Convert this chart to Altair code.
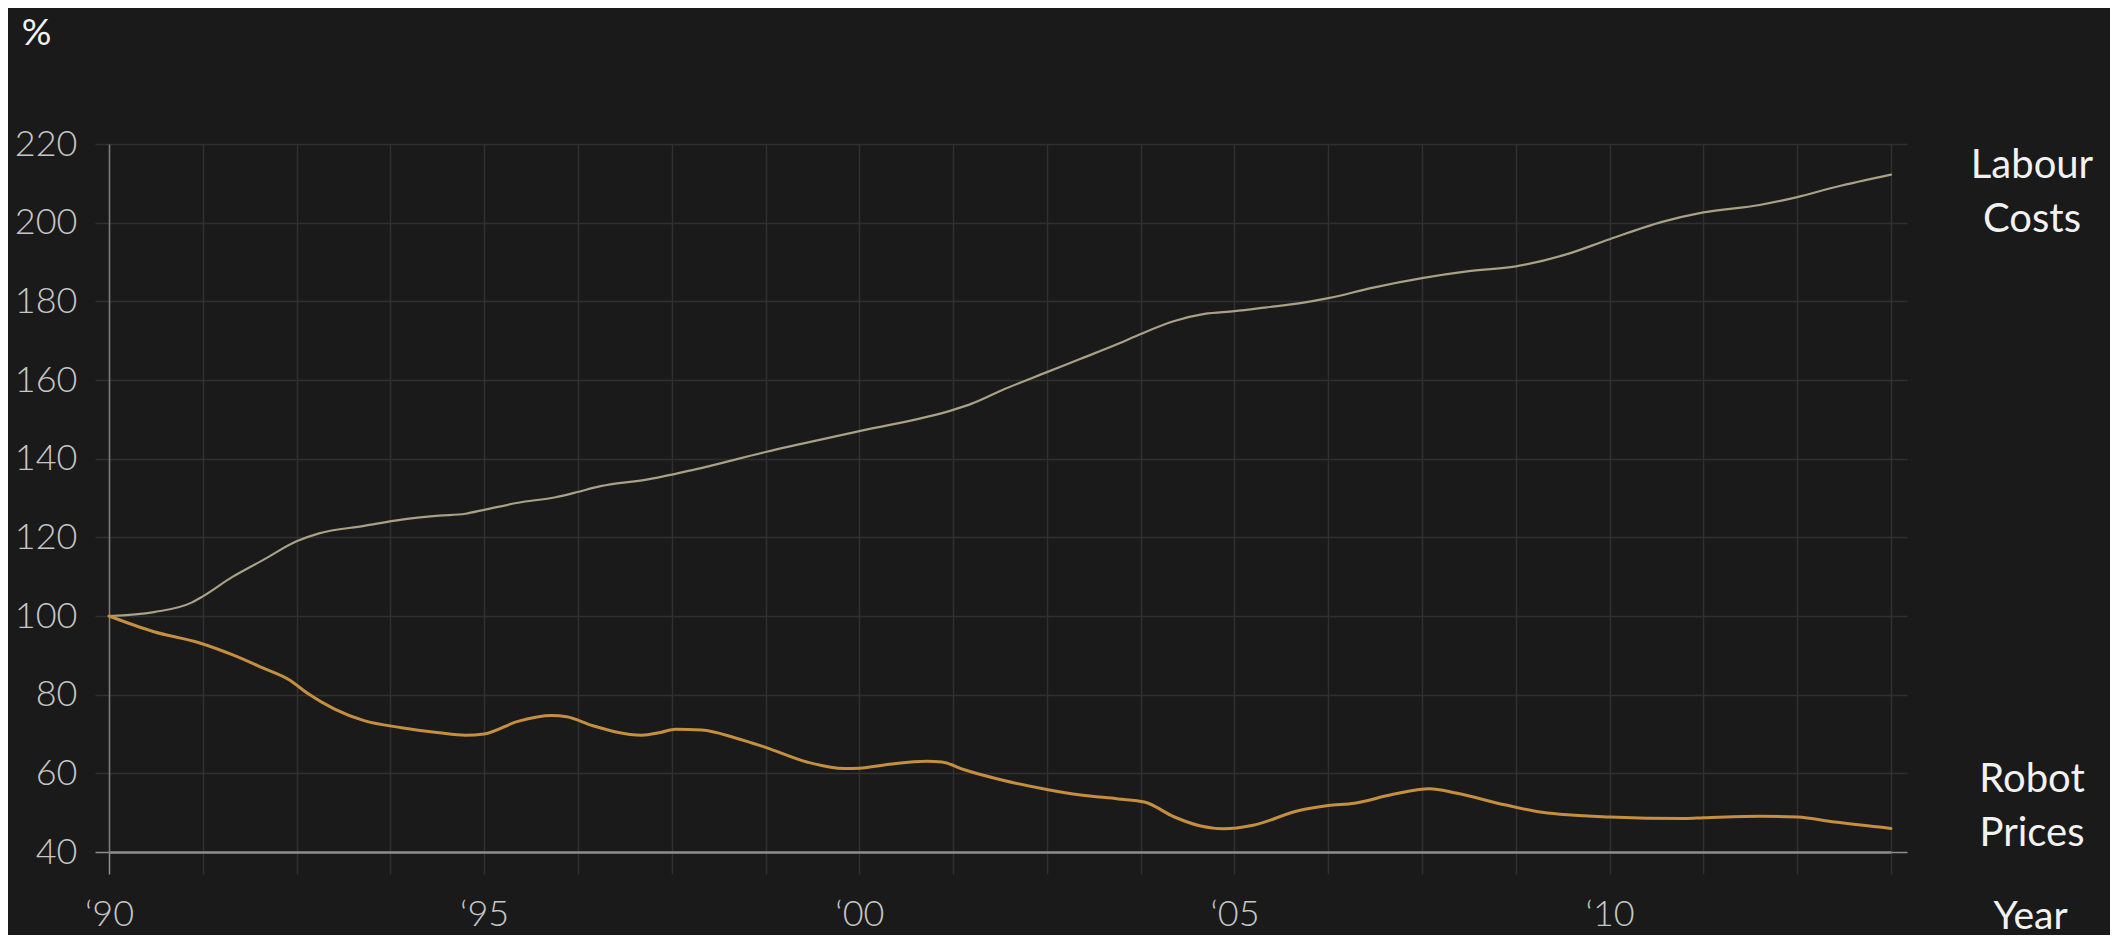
import altair as alt
import pandas as pd

# ---------------- data ----------------
labour_years = [1990.0, 1990.6, 1991.1, 1991.25, 1991.65, 1992.05, 1992.5, 1992.8, 1993.4, 1993.9,
                1994.4, 1994.75, 1995.0, 1995.45, 1995.95, 1996.2, 1996.55, 1997.2, 1997.8, 1998.75,
                2000.0, 2001.25, 2001.5, 2001.9, 2002.5, 2002.95, 2003.45, 2003.75, 2004.2, 2004.6,
                2005.0, 2005.4, 2005.9, 2006.25, 2006.85, 2007.5, 2008.1, 2008.75, 2009.4, 2010.0,
                2010.7, 2011.25, 2012.0, 2012.5, 2013.0, 2013.75]
labour_values = [100.0, 101.0, 103.4, 105.0, 110.0, 114.2, 119.0, 121.0, 122.9, 124.5,
                 125.5, 126.0, 127.0, 128.8, 130.2, 131.3, 133.0, 134.8, 137.2, 141.7,
                 147.0, 152.4, 154.0, 157.4, 162.0, 165.4, 169.2, 171.7, 175.0, 176.8,
                 177.5, 178.4, 179.6, 180.8, 183.5, 185.9, 187.6, 188.9, 191.8, 195.8,
                 200.2, 202.6, 204.5, 206.5, 209.0, 212.2]

robot_years = [1990.0, 1990.6, 1991.2, 1991.65, 1992.05, 1992.4, 1992.65, 1993.0, 1993.4, 1993.9,
               1994.4, 1994.75, 1995.0, 1995.45, 1995.9, 1996.1, 1996.45, 1997.1, 1997.35, 1997.55,
               1997.9, 1998.35, 1998.75, 1999.3, 1999.8, 2000.0, 2000.4, 2000.9, 2001.1, 2001.4,
               2001.9, 2002.5, 2002.95, 2003.45, 2003.8, 2004.2, 2004.55, 2004.85, 2005.25, 2005.85,
               2006.25, 2006.6, 2007.1, 2007.6, 2007.95, 2008.6, 2009.1, 2010.0, 2011.0, 2011.25,
               2012.0, 2012.5, 2013.0, 2013.75]
robot_values = [100.0, 96.0, 93.2, 90.1, 86.8, 83.8, 80.3, 76.4, 73.4, 71.6,
                70.3, 69.7, 70.0, 73.2, 74.7, 74.4, 72.1, 69.7, 70.4, 71.2,
                71.0, 69.0, 66.6, 62.9, 61.2, 61.3, 62.3, 63.1, 62.9, 60.9,
                58.3, 55.9, 54.5, 53.5, 52.7, 48.9, 46.6, 45.9, 46.8, 50.5,
                51.8, 52.4, 54.6, 56.1, 55.0, 52.0, 50.1, 48.9, 48.5, 48.7,
                49.1, 48.9, 47.6, 46.0]

series_names = ["Labour Costs", "Robot Prices"]
series_colors = ["#a9a185", "#c48f3f"]
series_widths = [2.2, 3.0]

x_grid_values = [1990.0, 1991.25, 1992.5, 1993.75, 1995.0, 1996.25, 1997.5, 1998.75, 2000.0, 2001.25,
                 2002.5, 2003.75, 2005.0, 2006.25, 2007.5, 2008.75, 2010.0, 2011.25, 2012.5, 2013.75]
x_label_years = [1990, 1995, 2000, 2005, 2010]
x_label_texts = ["\u201890", "\u201895", "\u201800", "\u201805", "\u201810"]
y_ticks = [40, 60, 80, 100, 120, 140, 160, 180, 200, 220]

# ---------------- build table ----------------
rows = [{"series": series_names[0], "year": y, "value": v} for y, v in zip(labour_years, labour_values)]
rows += [{"series": series_names[1], "year": y, "value": v} for y, v in zip(robot_years, robot_values)]
df = pd.DataFrame(rows)

lab_df = pd.DataFrame({"year": [labour_years[-1]], "value": [labour_values[-1]]})
rob_df = pd.DataFrame({"year": [robot_years[-1]], "value": [robot_values[-1]]})

label_expr = "".join(
    f"datum.value == {y} ? '{t}' : " for y, t in zip(x_label_years, x_label_texts)
) + "''"

BG = "#1a1a1a"
GRID = "#303030"
BRIGHT = "#8e8e8e"
TICKLAB = "#c6c6c6"
WHITE = "#f2f2f2"

x_tick_color = {"condition": {"test": "datum.value == 1990", "value": BRIGHT}, "value": GRID}
y_tick_color = {"condition": {"test": "datum.value == 40", "value": BRIGHT}, "value": GRID}

x_enc = alt.X(
    "year:Q",
    scale=alt.Scale(domain=[1990, 2013.75], nice=False, zero=False),
    axis=alt.Axis(
        values=x_grid_values, labelExpr=label_expr,
        grid=True, gridColor=GRID, gridWidth=1.5,
        ticks=True, tickSize=22, tickColor=x_tick_color, tickWidth=1.5,
        domain=True, domainColor=BRIGHT, domainWidth=2.5,
        labelFont="Lato", labelFontSize=36, labelFontWeight=300, labelColor=TICKLAB,
        labelPadding=23, labelOverlap=False, labelFlush=False, labelBound=False,
        title="Year", titleX=1921, titleY=64, titleAlign="center", titleBaseline="middle",
        titleFont="Lato", titleFontSize=39, titleFontWeight="normal", titleColor=WHITE, titleAngle=0,
    ),
)

y_scale = alt.Scale(domain=[40, 220], nice=False, zero=False)

lines = alt.Chart(df).mark_line(interpolate="monotone", strokeCap="round").encode(
    x=x_enc,
    y=alt.Y(
        "value:Q", scale=y_scale,
        axis=alt.Axis(
            values=y_ticks, grid=True, gridColor=GRID, gridWidth=1.5,
            ticks=True, tickSize=14, tickColor=y_tick_color, tickWidth=1.5,
            domain=True, domainColor="#7c7c7c", domainWidth=1.5,
            labelFont="Lato", labelFontSize=36, labelFontWeight=300, labelColor=TICKLAB,
            labelPadding=18, labelOverlap=False, labelBound=False, labelFlush=False,
            title="%", titleX=-73, titleY=-111, titleAngle=0, titleAlign="center",
            titleBaseline="middle", titleFont="Lato", titleFontSize=37,
            titleFontWeight="normal", titleColor=WHITE,
        ),
    ),
    color=alt.Color("series:N", scale=alt.Scale(domain=series_names, range=series_colors), legend=None),
    strokeWidth=alt.StrokeWidth("series:N", scale=alt.Scale(domain=series_names, range=series_widths), legend=None),
    detail="series:N",
)

right_ticks = alt.Chart(df).mark_line(strokeOpacity=0).encode(
    x=alt.X("year:Q"),
    y=alt.Y(
        "value:Q", scale=y_scale,
        axis=alt.Axis(
            orient="right", values=y_ticks, labels=False, grid=False, domain=False,
            ticks=True, tickSize=16, tickColor=y_tick_color, tickWidth=1.5, title=None,
        ),
    ),
    detail="series:N",
)

lab_text = alt.Chart(lab_df).mark_text(
    text=["Labour", "Costs"], dx=141, dy=-9, font="Lato", fontSize=40, color=WHITE,
    align="center", baseline="middle", lineHeight=54,
).encode(x=alt.X("year:Q"), y=alt.Y("value:Q", scale=y_scale, axis=None))

rob_text = alt.Chart(rob_df).mark_text(
    text=["Robot", "Prices"], dx=141, dy=-48, font="Lato", fontSize=40, color=WHITE,
    align="center", baseline="middle", lineHeight=54,
).encode(x=alt.X("year:Q"), y=alt.Y("value:Q", scale=y_scale, axis=None))

chart = alt.layer(lines, right_ticks, lab_text, rob_text).resolve_axis(
    y="independent"
).resolve_scale(y="shared").properties(
    width=1782, height=708,
    background=BG,
    padding={"left": 101, "top": 136, "right": 219, "bottom": 83},
    autosize=alt.AutoSizeParams(type="none"),
).configure_view(stroke=None)

chart.save("out.html", embed_options={"renderer": "svg", "actions": False})
